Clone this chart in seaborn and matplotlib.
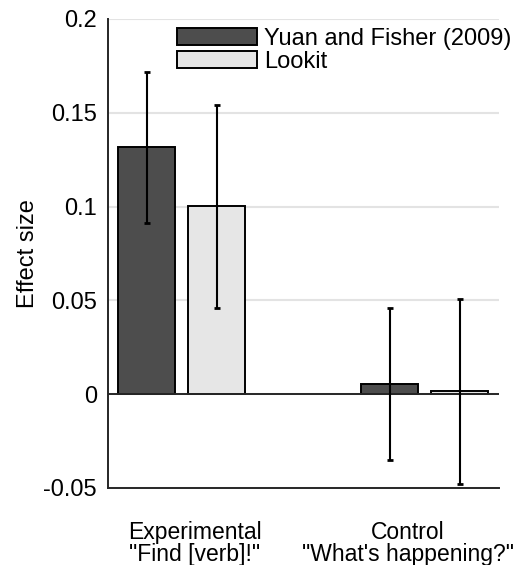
import matplotlib
matplotlib.use('Agg')
import matplotlib.pyplot as plt
import seaborn as sns
import pandas as pd

# valores
conditions = ['Experimental\n"Find [verb]!"', 'Control\n"What\'s happening?"']
studies = ['Yuan and Fisher (2009)', 'Lookit']
effect_yuan = [0.132, 0.0053]
effect_lookit = [0.1003, 0.0015]
err_low_yuan = [0.0913, -0.0352]
err_high_yuan = [0.172, 0.0459]
err_low_lookit = [0.046, -0.048]
err_high_lookit = [0.154, 0.0508]

sns.set_theme(style='white')
plt.rcParams['font.family'] = ['Liberation Sans', 'DejaVu Sans']

df = pd.DataFrame({
    'condition': conditions * 2,
    'study': [studies[0]] * 2 + [studies[1]] * 2,
    'effect': effect_yuan + effect_lookit,
    'low': err_low_yuan + err_low_lookit,
    'high': err_high_yuan + err_high_lookit,
})

fs = 17

fig = plt.figure(figsize=(5.2, 5.65), dpi=100)
ax = fig.add_axes([0.2077, 0.1363, 0.7519, 0.8301])

ax.set_axisbelow(True)
ax.grid(axis='y', color='#e3e3e3', linewidth=1.5)

sns.barplot(data=df, x='condition', y='effect', hue='study',
            palette=['#4d4d4d', '#e6e6e6'], width=0.575, gap=0.186,
            errorbar=None, edgecolor='black', linewidth=1.4, ax=ax, zorder=2)

# barras de erro usando a posicao das barras desenhadas
bars = ax.patches[:4]
for p, (_, row) in zip(bars, df.iterrows()):
    cx = p.get_x() + p.get_width() / 2
    ax.errorbar(cx, row['effect'],
                yerr=[[row['effect'] - row['low']], [row['high'] - row['effect']]],
                fmt='none', ecolor='black', elinewidth=1.5, capsize=2.5,
                capthick=2, zorder=4)

ax.axhline(0, color='#262626', linewidth=1.4, zorder=3)

ax.set_xlim(0.698 - 1, 2.304 - 1)
ax.set_ylim(-0.05, 0.2)
ax.set_yticks([-0.05, 0, 0.05, 0.1, 0.15, 0.2])
ax.set_yticklabels(['-0.05', '0', '0.05', '0.1', '0.15', '0.2'])
# rotulos do eixo x um pouco deslocados como no original
ax.set_xticks([0.055, 0.93])
ax.set_xticklabels(conditions)
ax.tick_params(axis='y', direction='in', length=4, width=1.3, colors='#262626',
               labelsize=fs, labelcolor='black', pad=8)
ax.tick_params(axis='x', length=0, labelsize=16.5, labelcolor='black', pad=24)
for lab in ax.get_xticklabels():
    lab.set_linespacing(0.95)

ax.set_xlabel('')
ax.set_ylabel('Effect size', fontsize=fs, labelpad=3, color='black')

sns.despine(ax=ax)
for s in ['left', 'bottom']:
    ax.spines[s].set_color('#262626')
    ax.spines[s].set_linewidth(1.4)

leg = ax.legend(loc='upper left', bbox_to_anchor=(0.176, 0.981), frameon=False,
                fontsize=fs, handlelength=3.4, handleheight=0.75, handletextpad=0.3,
                labelspacing=0.05, borderpad=0, borderaxespad=0)
for t in leg.get_texts():
    t.set_color('black')

fig.savefig('out.png', dpi=100)
